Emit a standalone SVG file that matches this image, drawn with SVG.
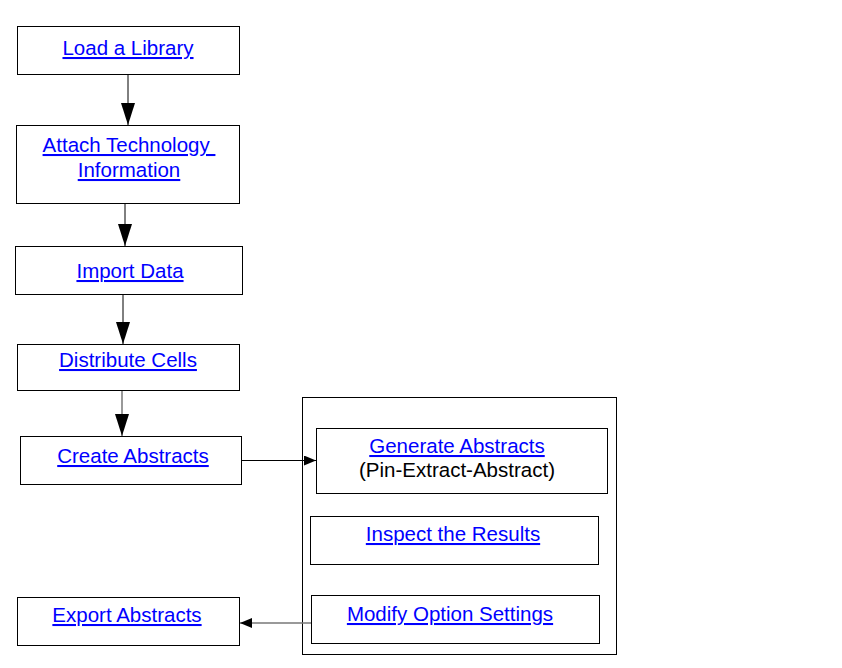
<svg xmlns="http://www.w3.org/2000/svg" width="842" height="668" viewBox="0 0 842 668">
<style>
.box{fill:#fff;stroke:#000;stroke-width:1}
.frame{fill:none;stroke:#000;stroke-width:1}
.lnk{font-family:"Liberation Sans",Arial,sans-serif;font-size:20.5px;fill:#0000ff;text-decoration:underline;text-anchor:middle}
.txt{font-family:"Liberation Sans",Arial,sans-serif;font-size:20.5px;fill:#000;text-anchor:middle}
.c{stroke:#000;stroke-width:1;fill:none}
.cg{stroke:#777;stroke-width:1.5;fill:none}
</style>
<defs>
<marker id="big" markerUnits="userSpaceOnUse" markerWidth="22" markerHeight="14" refX="22" refY="7" orient="auto" viewBox="0 0 22 14">
<path d="M0,0 L22,7 L0,14 Z" fill="#000"/>
</marker>
<marker id="small" markerUnits="userSpaceOnUse" markerWidth="12" markerHeight="10" refX="12" refY="5" orient="auto" viewBox="0 0 12 10">
<path d="M0,0 L12,5 L0,10 Z" fill="#000"/>
</marker>
</defs>
<rect x="0" y="0" width="842" height="668" fill="#fff"/>
<g id="container"><rect class="frame" x="302.5" y="397.5" width="314" height="257"/></g>
<g id="connectors">
<line class="c" x1="128" y1="74" x2="128" y2="125" marker-end="url(#big)"/>
<line class="c" x1="125" y1="203" x2="125" y2="246" marker-end="url(#big)"/>
<line class="c" x1="123" y1="294" x2="123" y2="344" marker-end="url(#big)"/>
<line class="cg" x1="122" y1="390" x2="122" y2="436" marker-end="url(#big)"/>
<line class="c" x1="241" y1="460.5" x2="316" y2="460.5" marker-end="url(#small)"/>
<line class="cg" x1="311" y1="623" x2="240" y2="623" marker-end="url(#small)"/>
</g>
<g id="load"><rect class="box" x="17.5" y="26.5" width="222" height="48"/><text class="lnk" x="128" y="55">Load a Library</text></g>
<g id="attach"><rect class="box" x="16.5" y="125.5" width="223" height="78"/><text class="lnk" x="129" y="152" xml:space="preserve">Attach Technology </text><text class="lnk" x="129" y="177">Information</text></g>
<g id="import"><rect class="box" x="15.5" y="246.5" width="227" height="48"/><text class="lnk" x="130" y="278">Import Data</text></g>
<g id="distribute"><rect class="box" x="17.5" y="344.5" width="222" height="46"/><text class="lnk" x="128" y="367">Distribute Cells</text></g>
<g id="create"><rect class="box" x="20.5" y="436.5" width="221" height="48"/><text class="lnk" x="133" y="463">Create Abstracts</text></g>
<g id="generate"><rect class="box" x="316.5" y="428.5" width="291" height="65"/><text class="lnk" x="457" y="453">Generate Abstracts</text><text class="txt" x="457" y="477">(Pin-Extract-Abstract)</text></g>
<g id="inspect"><rect class="box" x="310.5" y="516.5" width="288" height="48"/><text class="lnk" x="453" y="541">Inspect the Results</text></g>
<g id="modify"><rect class="box" x="311.5" y="595.5" width="288" height="48"/><text class="lnk" x="450" y="621">Modify Option Settings</text></g>
<g id="export"><rect class="box" x="17.5" y="597.5" width="222" height="48"/><text class="lnk" x="127" y="622">Export Abstracts</text></g>
</svg>
